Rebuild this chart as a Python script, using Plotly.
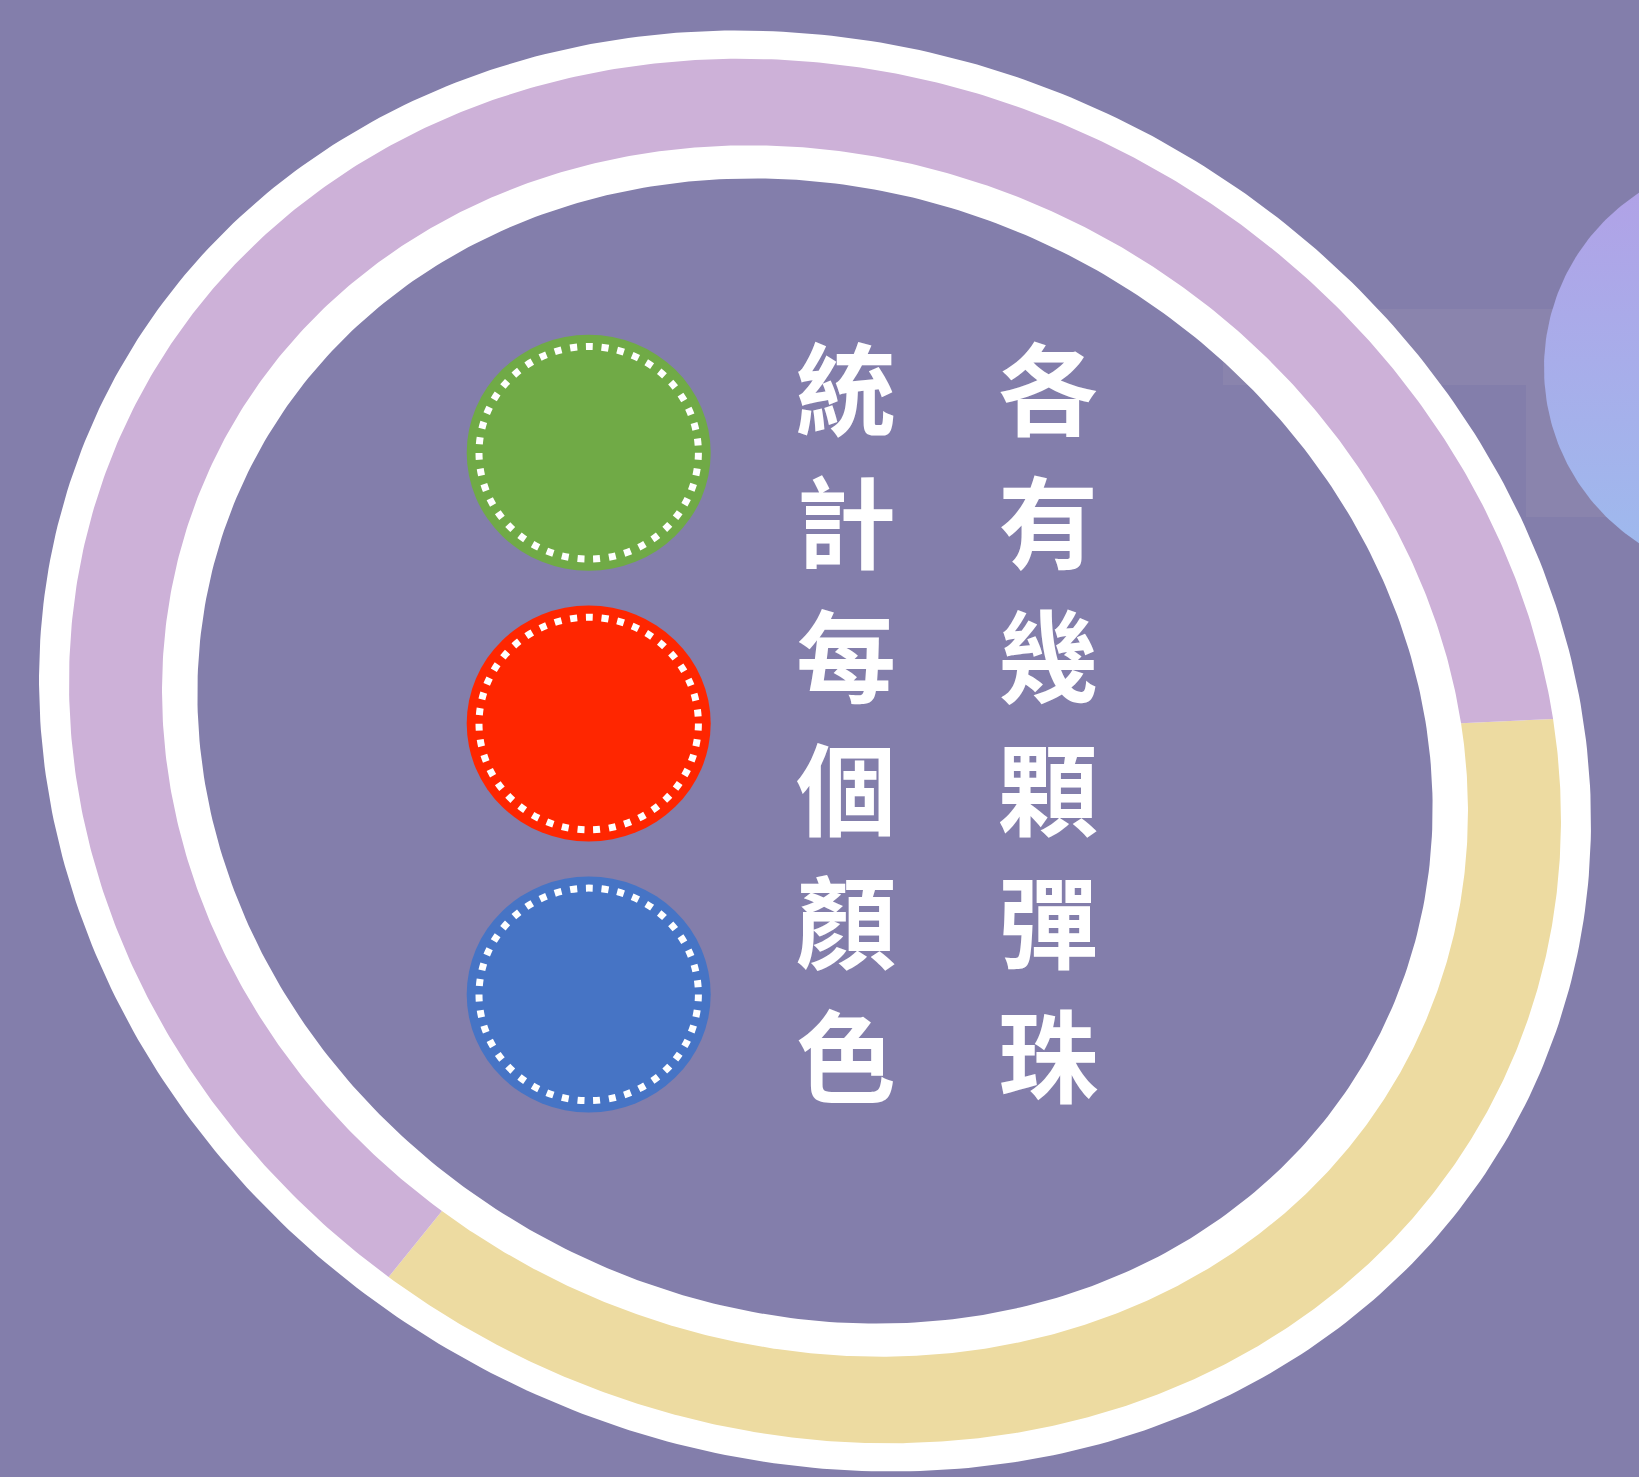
import numpy as np
import plotly.graph_objects as go

W, H = 1639, 1477
BG = "#837EAB"

# loop around the picture, split in two shares
ring_labels = ["黃色", "紫色"]
ring_values = [37, 63]
ring_colors = ["#EDDBA1", "#CDB1D8"]

# marbles, top to bottom
marble_names = ["綠", "紅", "藍"]
marble_colors = ["#70AA46", "#FF2600", "#4674C5"]

# vertical text, one string per column (left column first)
title_columns = ["統計每個顏色", "各有幾顆彈珠"]

# tilted ellipse geometry (pixels)
CX, CY, TILT = 815, 751, np.radians(26.5)
OUTER = (793.5, 701.2)     # outer edge of white band
RING_OUT = (762.9, 673.6)  # coloured band, outer edge
RING_IN = (667.9, 589.2)   # coloured band, inner edge
INNER = (631.8, 556.9)     # inner edge of white band
RING_START = -32.1


def ellipse_pts(ab, t0, t1, n=500):
    a, b = ab
    t = np.radians(np.linspace(t0, t1, n))
    u, v = a * np.cos(t), b * np.sin(t)
    x = CX + u * np.cos(TILT) - v * np.sin(TILT)
    y = CY + u * np.sin(TILT) + v * np.cos(TILT)
    return list(x), list(y)


fig = go.Figure()

# gradient ball at the right edge
t = np.linspace(0, 2 * np.pi, 300)
fig.add_trace(go.Scatter(
    x=1753 + 209 * np.cos(t), y=368 + 209 * np.sin(t),
    mode="lines", line=dict(width=0), fill="toself",
    fillgradient=dict(type="vertical", start=159, stop=577,
                      colorscale=[[0, "#B2A0E6"], [1, "#9DBBEE"]]),
    hoverinfo="skip", showlegend=False))

# white band (outer edge to inner edge, with hole)
xo, yo = ellipse_pts(OUTER, 0, 360)
xi, yi = ellipse_pts(INNER, 360, 0)
fig.add_trace(go.Scatter(
    x=xo + [None] + xi, y=yo + [None] + yi,
    mode="lines", line=dict(width=0), fill="toself", fillcolor="white",
    hoverinfo="skip", showlegend=False))

# coloured shares of the ring
total = sum(ring_values)
start = RING_START
for label, val, col in zip(ring_labels, ring_values, ring_colors):
    end = start + 360 * val / total
    x1, y1 = ellipse_pts(RING_OUT, start, end)
    x2, y2 = ellipse_pts(RING_IN, end, start)
    fig.add_trace(go.Scatter(
        x=x1 + x2, y=y1 + y2, name=label,
        mode="lines", line=dict(width=0), fill="toself", fillcolor=col,
        hoverinfo="skip", showlegend=False))
    start = end

# vertical text columns
col_x = [846, 1048]
for cx, txt in zip(col_x, title_columns):
    chars = list(txt)
    fig.add_trace(go.Scatter(
        x=[cx] * len(chars), y=[403 + i * 133.3 for i in range(len(chars))],
        mode="text", text=chars, textposition="middle center",
        textfont=dict(family="Noto Sans CJK TC", size=100, color="white",
                      weight="bold"),
        hoverinfo="skip", showlegend=False))

shapes = [
    dict(type="rect", x0=1223, x1=1700, y0=309, y1=385, layer="below",
         fillcolor="#8A84AD", line=dict(width=0)),
    dict(type="rect", x0=1526, x1=1700, y0=385, y1=517, layer="below",
         fillcolor="#8A84AD", line=dict(width=0)),
]
for i, (name, col) in enumerate(zip(marble_names, marble_colors)):
    my = 452.8 + i * 270.8
    shapes.append(dict(type="circle", x0=588.7 - 122, x1=588.7 + 122,
                       y0=my - 118, y1=my + 118, fillcolor=col,
                       line=dict(width=0)))
    shapes.append(dict(type="circle", x0=588.7 - 109.7, x1=588.7 + 109.7,
                       y0=my - 106.3, y1=my + 106.3,
                       line=dict(color="white", width=7, dash="7px,8.8px")))

fig.update_layout(
    width=W, height=H,
    margin=dict(l=0, r=0, t=0, b=0),
    paper_bgcolor=BG, plot_bgcolor=BG,
    shapes=shapes,
    xaxis=dict(range=[0, W], visible=False, fixedrange=True),
    yaxis=dict(range=[H, 0], visible=False, fixedrange=True),
)

fig.write_html("out.html", config={"displayModeBar": False},
               post_script="document.body.style.margin='0';"
                           "document.body.style.overflow='hidden';")
